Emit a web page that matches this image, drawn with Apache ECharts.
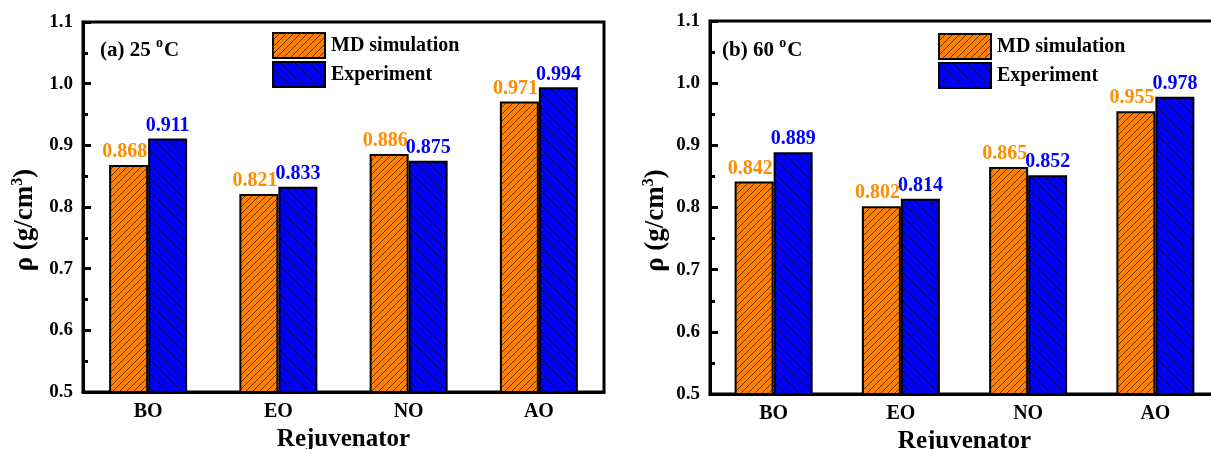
<!DOCTYPE html>
<html>
<head>
<meta charset="utf-8">
<script src="https://cdn.jsdelivr.net/npm/echarts@6/dist/echarts.min.js"></script>
<style>html,body{margin:0;padding:0;background:#fff}#c{width:1211px;height:449px}</style>
</head>
<body>
<div id="c"></div>
<script>
var categories = ['BO', 'EO', 'NO', 'AO'];
var md25 = [0.868, 0.821, 0.886, 0.971];
var exp25 = [0.911, 0.833, 0.875, 0.994];
var md60 = [0.842, 0.802, 0.865, 0.955];
var exp60 = [0.889, 0.814, 0.852, 0.978];
var seriesNames = ['MD simulation', 'Experiment'];
var panelTitles = ['(a) 25 ', '(b) 60 '];
var xName = 'Rejuvenator';

var FONT = '"Liberation Serif", "Times New Roman", serif';
var ORANGE = '#FF8000', BLUE = '#0000FF';

function hatch(fill, dir) {
  var s = 7, c = document.createElement('canvas');
  c.width = s; c.height = s;
  var g = c.getContext('2d');
  g.fillStyle = fill; g.fillRect(0, 0, s, s);
  g.strokeStyle = 'rgba(0,0,0,0.75)'; g.lineWidth = 0.8;
  g.beginPath();
  if (dir > 0) {
    g.moveTo(-1, s + 1); g.lineTo(s + 1, -1);
    g.moveTo(-1, 1); g.lineTo(1, -1);
    g.moveTo(s - 1, s + 1); g.lineTo(s + 1, s - 1);
  } else {
    g.moveTo(-1, -1); g.lineTo(s + 1, s + 1);
    g.moveTo(s - 1, -1); g.lineTo(s + 1, 1);
    g.moveTo(-1, s - 1); g.lineTo(1, s + 1);
  }
  g.stroke();
  return { image: c, repeat: 'repeat' };
}
var orangePat = hatch(ORANGE, 1), bluePat = hatch(BLUE, -1);

var grids = [
  { left: 83, top: 22, width: 521, height: 370 },
  { left: 710, top: 21, width: 509, height: 373 }
];

function xAxis(i) {
  return {
    type: 'category', gridIndex: i, data: categories,
    axisLine: { lineStyle: { color: '#000', width: 3 } },
    axisTick: { show: false },
    axisLabel: { color: '#000', fontFamily: FONT, fontWeight: 'bold', fontSize: 20, margin: 10 },
    name: xName, nameLocation: 'middle', nameGap: 33,
    nameTextStyle: { color: '#000', fontFamily: FONT, fontWeight: 'bold', fontSize: 25 }
  };
}
function yAxis(i, gap) {
  return {
    type: 'value', gridIndex: i, min: 0.5, max: 1.1, interval: 0.1,
    axisLine: { show: true, lineStyle: { color: '#000', width: 3 } },
    axisTick: { show: true, inside: true, length: 8, lineStyle: { color: '#000', width: 3 } },
    minorTick: { show: true, splitNumber: 2, length: 5, lineStyle: { color: '#000', width: 3 } },
    splitLine: { show: false },
    axisLabel: { color: '#000', fontFamily: FONT, fontWeight: 'bold', fontSize: 19, margin: 10,
      formatter: function (v) { return v.toFixed(1); } },
    name: '{n|ρ (g/cm}{s|3}{n|)}', nameLocation: 'middle', nameRotate: 90, nameGap: gap,
    nameTextStyle: {
      color: '#000', fontFamily: FONT, fontWeight: 'bold', fontSize: 27, padding: [0, 26, 0, 0],
      rich: {
        n: { fontFamily: FONT, fontWeight: 'bold', fontSize: 27, color: '#000' },
        s: { fontFamily: FONT, fontWeight: 'bold', fontSize: 16, color: '#000', padding: [0, 0, 14, 0] }
      }
    }
  };
}
function barSeries(name, data, i, pat, lblColor, dx) {
  return {
    type: 'bar', name: name, data: data, xAxisIndex: i, yAxisIndex: i,
    barWidth: 39, barGap: '0%',
    itemStyle: { color: pat, borderColor: '#000', borderWidth: 2 },
    label: { show: true, position: 'top', distance: 3, offset: [dx, 0], color: lblColor, fontFamily: FONT,
      fontWeight: 'bold', fontSize: 20, formatter: function (p) { return p.value.toFixed(3); } }
  };
}
function legend(left, top) {
  return {
    data: seriesNames.map(function (n) { return { name: n, icon: 'rect' }; }),
    orient: 'vertical', left: left, top: top,
    itemWidth: 52, itemHeight: 25, itemGap: 2, selectedMode: false,
    textStyle: { color: '#000', fontFamily: FONT, fontWeight: 'bold', fontSize: 20, padding: [0, 0, 0, 1] }
  };
}
function panelLabel(i, x, y) {
  return {
    type: 'text', left: x, top: y,
    style: {
      text: '{n|' + panelTitles[i] + '}{s|o}{n|C}',
      fill: '#000', font: 'bold 21px ' + FONT,
      rich: {
        n: { fontFamily: FONT, fontWeight: 'bold', fontSize: 21, fill: '#000' },
        s: { fontFamily: FONT, fontWeight: 'bold', fontSize: 14, fill: '#000', padding: [0, 1, 16, 0] }
      }
    }
  };
}

var chart = echarts.init(document.getElementById('c'));
chart.setOption({
  animation: false,
  backgroundColor: '#fff',
  grid: grids.map(function (g) {
    return Object.assign({ show: true, borderColor: '#000', borderWidth: 3, backgroundColor: 'transparent',
      containLabel: false, outerBoundsMode: 'none' }, g);
  }),
  xAxis: [xAxis(0), xAxis(1)],
  yAxis: [yAxis(0, 43), yAxis(1, 39)],
  legend: [legend(267, 27), legend(933, 28)],
  series: [
    barSeries(seriesNames[0], md25, 0, orangePat, '#FF8C00', -4),
    barSeries(seriesNames[1], exp25, 0, bluePat, BLUE, 0),
    barSeries(seriesNames[0], md60, 1, orangePat, '#FF8C00', -4),
    barSeries(seriesNames[1], exp60, 1, bluePat, BLUE, 0)
  ],
  graphic: [panelLabel(0, 100, 36), panelLabel(1, 722, 36)]
});
</script>
</body>
</html>
